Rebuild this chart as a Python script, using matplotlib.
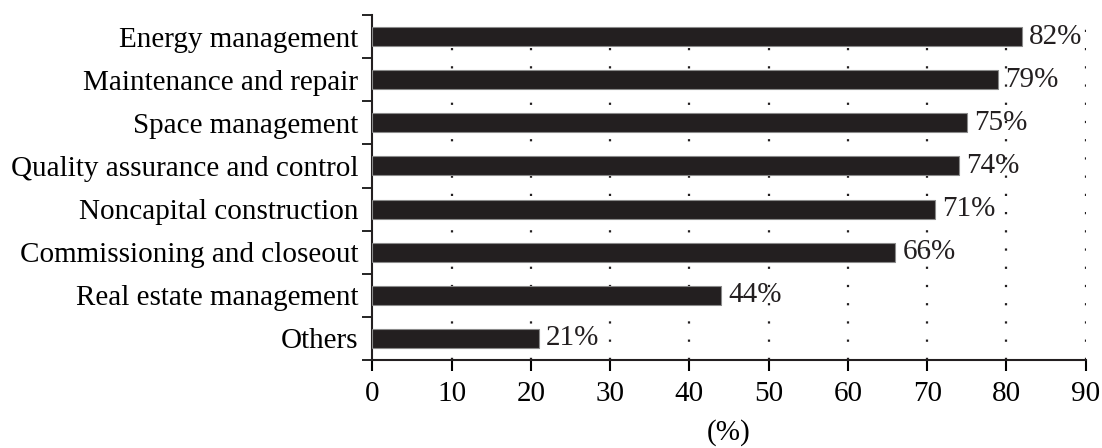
import matplotlib
matplotlib.use("Agg")
import matplotlib.pyplot as plt
import numpy as np

# Share of respondents by application area
areas = ["Energy management", "Maintenance and repair", "Space management",
         "Quality assurance and control", "Noncapital construction",
         "Commissioning and closeout", "Real estate management", "Others"]
shares = [82, 79, 75, 74, 71, 66, 44, 21]
xticks = [0, 10, 20, 30, 40, 50, 60, 70, 80, 90]

plt.rcParams["font.family"] = ["Liberation Serif", "DejaVu Serif"]
plt.rcParams["font.size"] = 21

fig = plt.figure(figsize=(11.02, 4.48), dpi=100)
ax = fig.add_axes([0.3378, 0.1964, 0.6474, 0.7701])

pos = np.arange(len(areas))
ax.barh(pos, shares, height=0.44, color="#231f20", edgecolor="#8a8a8a",
        linewidth=0.8, zorder=3)

for p, v in zip(pos, shares):
    ax.annotate("%d%%" % v, (v, p), xytext=(5, 0), textcoords="offset points",
                va="center", ha="left", color="#231f20", zorder=4)

# dotted guides at every tick except the axis itself
for x in xticks[1:]:
    ax.axvline(x, color="#231f20", linewidth=1.6, linestyle=(0, (1, 7.2)),
               zorder=1)

ax.set_xlim(0, 90)
ax.set_ylim(len(areas) - 0.5, -0.5)
ax.set_xticks(xticks)
ax.set_yticks(pos)
ax.set_yticklabels(areas)
ax.set_yticks(np.arange(-0.5, len(areas)), minor=True)
ax.tick_params(axis="y", which="major", length=0, pad=10)
ax.tick_params(axis="y", which="minor", direction="out", length=7, width=1.2)
ax.tick_params(axis="x", direction="out", length=8, width=1.5, pad=7)

for s in ["top", "right"]:
    ax.spines[s].set_visible(False)
for s in ["left", "bottom"]:
    ax.spines[s].set_linewidth(1.5)
    ax.spines[s].set_color("#231f20")

ax.set_xlabel("(%)", labelpad=9)

fig.savefig("out.png", dpi=100)
